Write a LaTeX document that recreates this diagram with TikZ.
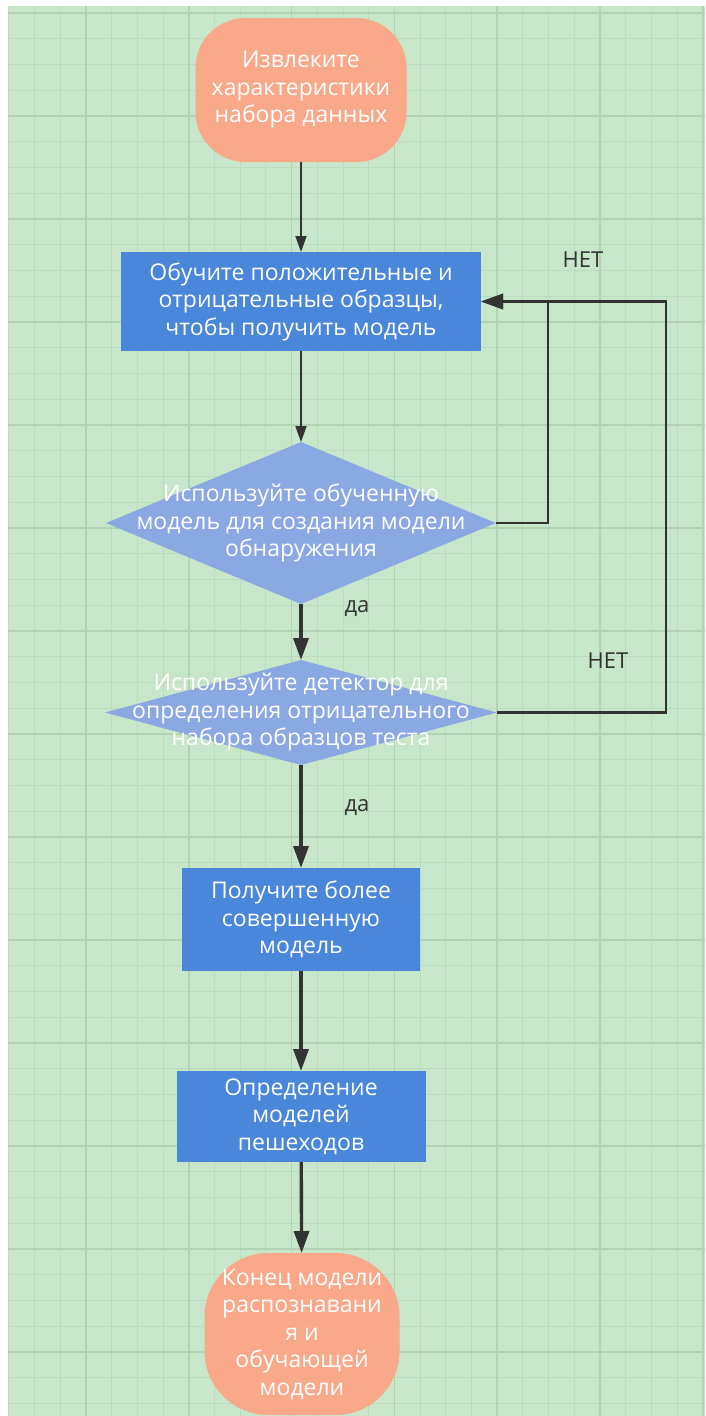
\documentclass[tikz,border=0pt]{standalone}
\usepackage{fontspec}
\setmainfont{Open Sans}
\usepackage{xcolor}
\usepackage{tikz}
\usetikzlibrary{arrows.meta}
\usetikzlibrary{shapes.geometric}
\usetikzlibrary{positioning,calc}
\definecolor{Bg}{RGB}{200,230,202}
\definecolor{GridMinor}{RGB}{186,219,189}
\definecolor{GridMajor}{RGB}{176,211,180}
\definecolor{TermFill}{RGB}{250,168,138}
\definecolor{BoxBlue}{RGB}{74,134,218}
\definecolor{DiaBlue}{RGB}{138,169,227}
\definecolor{Ink}{RGB}{51,51,51}
\newcommand*{\flowfont}{\fontsize{23}{27.5}\selectfont}
\tikzstyle{term}=[rectangle,rounded corners=50pt,fill=TermFill,text=white,align=center,font=\flowfont,inner sep=0pt,outer sep=0pt]
\tikzstyle{box}=[rectangle,fill=BoxBlue,text=white,align=center,font=\flowfont,inner sep=0pt,outer sep=0pt]
\tikzstyle{dia}=[diamond,fill=DiaBlue,inner sep=0pt,outer sep=0pt]
\tikzstyle{diatext}=[text=white,align=center,font=\flowfont,inner sep=0pt]
\tikzstyle{lbl}=[text=Ink,font=\fontsize{22}{24}\selectfont,inner sep=0pt]
\tikzstyle{gridminor}=[draw=GridMinor,line width=1pt]
\tikzstyle{gridmajor}=[draw=GridMajor,line width=1.6pt]
\tikzset{
  lnk/.style={draw=Ink,line width=1.8pt,-{Triangle[length=16pt,width=11pt]}},
  lnkbold/.style={draw=Ink,line width=3.4pt,-{Triangle[length=22pt,width=15pt]}},
  lnkloop/.style={draw=Ink,line width=2.6pt,-{Triangle[length=22pt,width=15pt]}}
}

\begin{document}
\begin{tikzpicture}[x=1pt,y=-1pt]
    \useasboundingbox (0,0) rectangle (705,1416);
    % background with grid
    \fill[Bg] (8,6) rectangle (705,1416);
    \begin{scope}
      \clip (8,6) rectangle (705,1416);
      \foreach \i in {0,...,27} \draw[gridminor] (8.9+25.7*\i,6) -- ++(0,1410);
      \foreach \j in {0,...,54} \draw[gridminor] (8,13+25.75*\j) -- ++(697,0);
      \foreach \k in {0,...,6} \draw[gridmajor] (86+102.8*\k,6) -- ++(0,1410);
      \foreach \k in {0,...,13} \draw[gridmajor] (8,13+103*\k) -- ++(697,0);
    \end{scope}

    \node [term,minimum width=211pt,minimum height=144pt] (start) at (301,90) {Извлеките\\характеристики\\набора данных};
    \node [box,minimum width=360pt,minimum height=99pt] (train) at (301,301.5) {Обучите положительные и\\отрицательные образцы,\\чтобы получить модель};
    \node [dia,minimum width=390pt,minimum height=162pt] (q1) at (301,523) {};
    \node [diatext] (q1t) at (q1) {Используйте обученную\\модель для создания модели\\обнаружения};
    \node [dia,minimum width=392pt,minimum height=105pt] (q2) at (301,712.5) {};
    \node [diatext] (q2t) at (q2) {Используйте детектор для\\определения отрицательного\\набора образцов теста};
    \node [box,minimum width=238pt,minimum height=103pt] (better) at (301,919.5) {Получите более\\совершенную\\модель};
    \node [box,minimum width=249pt,minimum height=91pt] (detect) at (301,1116.5) {Определение\\моделей\\пешеходов};
    \node [term,rounded corners=64pt,minimum width=195pt,minimum height=162pt] (stop) at (302,1334) {Конец модели\\распознавани\\я и\\обучающей\\модели};

    \node [lbl] (yes1) at (357,609) {да};
    \node [lbl] (yes2) at (357,808) {да};
    \node [lbl] (no1) at (583,260) {НЕТ};
    \node [lbl] (no2) at (608,661) {НЕТ};

    \draw [lnk] (start) -- (train);
    \draw [lnk] (train) -- (q1);
    \draw [lnkbold] (q1) -- (q2);
    \draw [lnkbold] (q2) -- (better);
    \draw [lnkbold] (better) -- (detect);
    \draw [lnkbold] (detect) -- (stop);

    \draw [lnkloop] (q1.east) -- ++(52,0) |- (train.east);
    \draw [lnkloop] (q2.east) -- ++(169,0) |- (train.east);
\end{tikzpicture}
\end{document}
